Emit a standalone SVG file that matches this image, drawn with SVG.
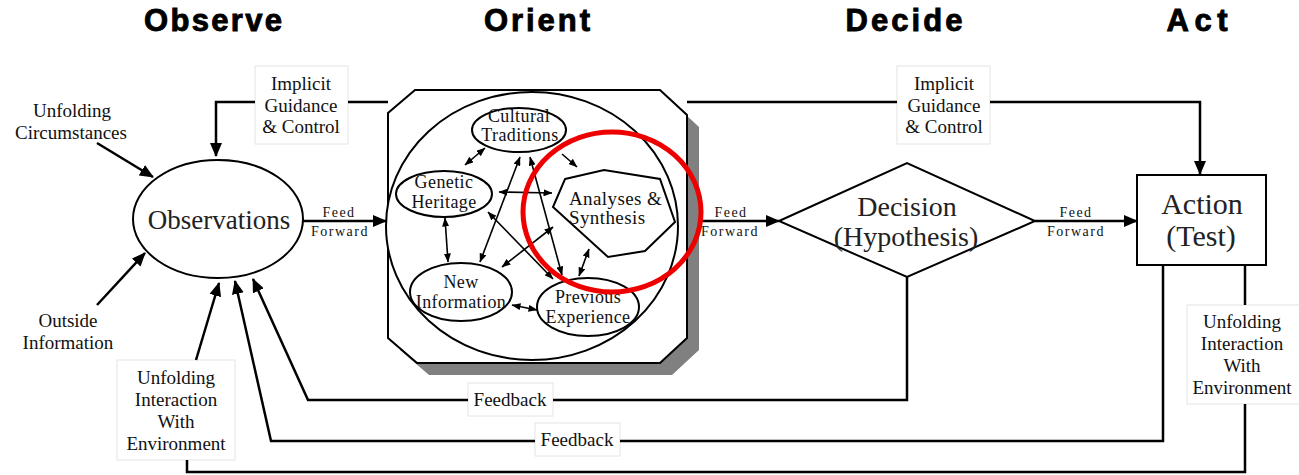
<svg xmlns="http://www.w3.org/2000/svg" width="1299" height="475" viewBox="0 0 1299 475">
<defs>
<marker id="ah" viewBox="0 0 14 12" markerWidth="14" markerHeight="12" refX="13" refY="6" orient="auto-start-reverse" markerUnits="userSpaceOnUse"><path d="M0,0 L14,6 L0,12 z" fill="#000"/></marker>
<marker id="sh" viewBox="0 0 9 7" markerWidth="9" markerHeight="7" refX="8.5" refY="3.5" orient="auto-start-reverse" markerUnits="userSpaceOnUse"><path d="M0,0 L9,3.5 L0,7 z" fill="#000"/></marker>
<style>
.title{font-family:"Liberation Sans",Arial,sans-serif;font-weight:bold;font-size:31px;fill:#000;stroke:#000;stroke-width:0.9;text-anchor:middle}
.big{font-family:"Liberation Serif","Times New Roman",serif;font-size:27px;fill:#222;text-anchor:middle}
.lbl{font-family:"Liberation Serif","Times New Roman",serif;font-size:19px;fill:#111;text-anchor:middle}
.ff{font-family:"Liberation Serif","Times New Roman",serif;font-size:14px;fill:#111;text-anchor:middle;letter-spacing:1.5px}
.in{font-family:"Liberation Serif","Times New Roman",serif;font-size:18px;fill:#111;text-anchor:middle;letter-spacing:0.4px}
.shape{fill:#fff;stroke:#000;stroke-width:2}
.lbox{fill:#fff;stroke:#e4e4e4;stroke-width:1}
.conn{fill:none;stroke:#000;stroke-width:2.5}
.ic{fill:none;stroke:#000;stroke-width:1.6}
</style>
</defs>
<g id="titles">
<text class="title" x="213" y="31" textLength="138" lengthAdjust="spacing">Observe</text>
<text class="title" x="537" y="31" textLength="106" lengthAdjust="spacing">Orient</text>
<text class="title" x="904" y="31" textLength="117" lengthAdjust="spacing">Decide</text>
<text class="title" x="1197" y="31" textLength="61" lengthAdjust="spacing">Act</text>
</g>
<g id="unfolding-circumstances">
<text class="lbl" x="72" y="117">Unfolding</text>
<text class="lbl" x="71" y="139">Circumstances</text>
</g>
<g id="outside-information">
<text class="lbl" x="68" y="327">Outside</text>
<text class="lbl" x="68" y="349">Information</text>
</g>
<g id="observations">
<ellipse class="shape" cx="218" cy="219" rx="85" ry="59"/>
<text class="big" x="219" y="229">Observations</text>
</g>
<g id="orient">
<polygon points="427,102 672,102 699,127 699,350 672,375 429,375 400,350 400,125" fill="#808080"/>
<polygon class="shape" points="415,90 660,90 687,115 687,338 660,363 417,363 388,338 388,113"/>
<ellipse class="shape" cx="532" cy="226" rx="146" ry="134"/>
</g>
<g id="cultural-traditions">
<ellipse class="shape" cx="519" cy="130" rx="47" ry="22"/>
<text class="in" x="519" y="122">Cultural</text>
<text class="in" x="520" y="141">Traditions</text>
</g>
<g id="genetic-heritage">
<ellipse class="shape" cx="444" cy="194" rx="48" ry="23"/>
<text class="in" x="444" y="188">Genetic</text>
<text class="in" x="444" y="208">Heritage</text>
</g>
<g id="new-information">
<ellipse class="shape" cx="461" cy="292" rx="51" ry="29"/>
<text class="in" x="461" y="288">New</text>
<text class="in" x="461" y="308">Information</text>
</g>
<g id="previous-experience">
<ellipse class="shape" cx="588" cy="307" rx="51" ry="29"/>
<text class="in" x="588" y="303">Previous</text>
<text class="in" x="588" y="323">Experience</text>
</g>
<g id="analyses-synthesis">
<polygon class="shape" points="565,179 604,170 660,179 675,222 645,251 608,257 553,207"/>
<text class="in" x="569" y="205" style="text-anchor:start;font-size:19px">Analyses &amp;</text>
<text class="in" x="569" y="224" style="text-anchor:start;font-size:19px">Synthesis</text>
</g>
<g id="implicit-guidance-1">
<rect class="lbox" x="255" y="66" width="93" height="78"/>
<text class="lbl" x="301" y="90">Implicit</text>
<text class="lbl" x="301" y="112">Guidance</text>
<text class="lbl" x="301" y="133">&amp; Control</text>
</g>
<g id="implicit-guidance-2">
<rect class="lbox" x="897" y="66" width="93" height="78"/>
<text class="lbl" x="944" y="90">Implicit</text>
<text class="lbl" x="944" y="112">Guidance</text>
<text class="lbl" x="944" y="133">&amp; Control</text>
</g>
<g id="decision">
<polygon class="shape" points="779,221 907,163 1035,221 907,277"/>
<text class="big" x="907" y="216" style="font-size:28px">Decision</text>
<text class="big" x="906" y="246" style="font-size:28px">(Hypothesis)</text>
</g>
<g id="action">
<rect class="shape" x="1137" y="175" width="129" height="90"/>
<text class="big" x="1202" y="214" style="font-size:30px">Action</text>
<text class="big" x="1201" y="246" style="font-size:30px">(Test)</text>
</g>
<g id="unfolding-interaction-left">
<rect class="lbox" x="117" y="360" width="118" height="100"/>
<text class="lbl" x="176" y="384">Unfolding</text>
<text class="lbl" x="176" y="406">Interaction</text>
<text class="lbl" x="176" y="428">With</text>
<text class="lbl" x="176" y="450">Environment</text>
</g>
<g id="unfolding-interaction-right">
<rect class="lbox" x="1187" y="305" width="115" height="99"/>
<text class="lbl" x="1242" y="328">Unfolding</text>
<text class="lbl" x="1242" y="350">Interaction</text>
<text class="lbl" x="1242" y="372">With</text>
<text class="lbl" x="1242" y="394">Environment</text>
</g>
<g id="feedback-1">
<rect class="lbox" x="468" y="383" width="85" height="33"/>
<text class="lbl" x="510" y="406">Feedback</text>
</g>
<g id="feedback-2">
<rect class="lbox" x="535" y="423" width="85" height="33"/>
<text class="lbl" x="577" y="446">Feedback</text>
</g>
<g id="feed-forward-labels">
<text class="ff" x="339" y="217">Feed</text>
<text class="ff" x="340" y="236">Forward</text>
<text class="ff" x="731" y="217">Feed</text>
<text class="ff" x="730" y="236">Forward</text>
<text class="ff" x="1076" y="217">Feed</text>
<text class="ff" x="1076" y="236">Forward</text>
</g>
<g id="connectors">
<path class="conn" d="M255,102 H216 V156" marker-end="url(#ah)"/>
<path class="conn" d="M348,102 H388"/>
<path class="conn" d="M687,102 H897"/>
<path class="conn" d="M990,102 H1200 V174" marker-end="url(#ah)"/>
<path class="conn" d="M97,143 L153,177" marker-end="url(#ah)"/>
<path class="conn" d="M97,305 L145,253" marker-end="url(#ah)"/>
<path class="conn" d="M303,221 H386" marker-end="url(#ah)"/>
<path class="conn" d="M699,221 H779" marker-end="url(#ah)"/>
<path class="conn" d="M1035,221 H1137" marker-end="url(#ah)"/>
<path class="conn" d="M907,277 V400 H553"/>
<path class="conn" d="M468,400 H308 L253,279" marker-end="url(#ah)"/>
<path class="conn" d="M1163,265 V441 H620"/>
<path class="conn" d="M535,441 H271 L235,281" marker-end="url(#ah)"/>
<path class="conn" d="M196,360 L219,283" marker-end="url(#ah)"/>
<path class="conn" d="M187,460 V472 H1245 V404"/>
<path class="conn" d="M1245,305 V265"/>
<path class="ic" d="M485,148 L465,165" marker-start="url(#sh)" marker-end="url(#sh)"/>
<path class="ic" d="M445,218 L448,262" marker-start="url(#sh)" marker-end="url(#sh)"/>
<path class="ic" d="M499,192 L552,193" marker-start="url(#sh)" marker-end="url(#sh)"/>
<path class="ic" d="M480,262 L520,157" marker-start="url(#sh)" marker-end="url(#sh)"/>
<path class="ic" d="M530,157 L562,275" marker-start="url(#sh)" marker-end="url(#sh)"/>
<path class="ic" d="M488,212 L553,279" marker-start="url(#sh)" marker-end="url(#sh)"/>
<path class="ic" d="M502,267 L553,227" marker-start="url(#sh)" marker-end="url(#sh)"/>
<path class="ic" d="M562,154 L577,167" marker-end="url(#sh)"/>
<path class="ic" d="M589,249 L579,276" marker-start="url(#sh)" marker-end="url(#sh)"/>
<path class="ic" d="M512,305 L537,310" marker-start="url(#sh)" marker-end="url(#sh)"/>
</g>
<g id="highlight">
<ellipse cx="612" cy="212" rx="89" ry="80" fill="none" stroke="#ee0000" stroke-width="5"/>
</g>
</svg>
